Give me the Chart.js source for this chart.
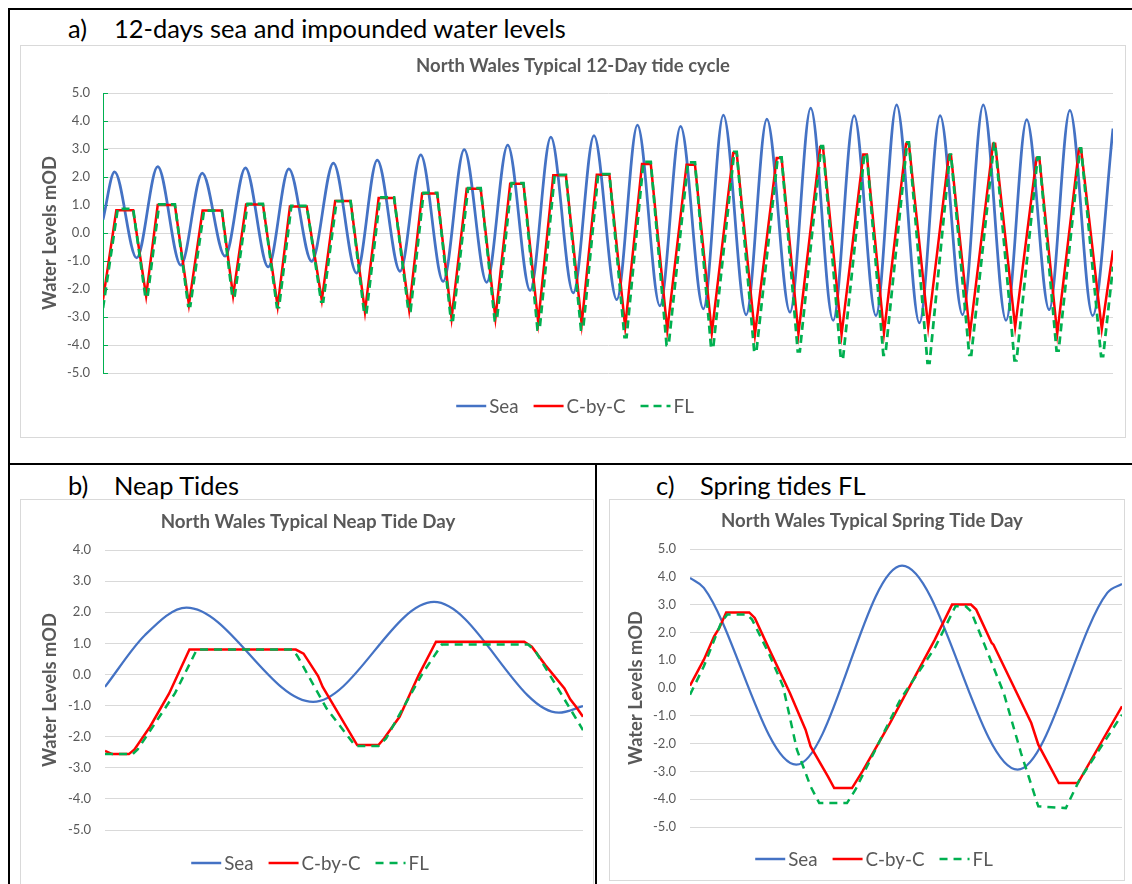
<!DOCTYPE html>
<html><head><meta charset="utf-8">
<title>North Wales tide cycles</title>
<script src="https://cdn.jsdelivr.net/npm/chart.js@4.4.1/dist/chart.umd.min.js"></script>
<style>
html,body{margin:0;padding:0;background:#fff}
body{width:1132px;height:884px;position:relative;overflow:hidden;font-family:Lato,"Open Sans",sans-serif}
.rule{position:absolute;background:#000}
.frame{position:absolute;border:1px solid #d9d9d9;box-sizing:border-box}
.lbl{position:absolute;white-space:nowrap;color:#000;font-size:24px;line-height:30px;height:30px}
canvas{position:absolute}
</style></head><body>
<div class="rule" style="left:8px;top:8px;width:1124px;height:2px"></div>
<div class="rule" style="left:8px;top:8px;width:2px;height:876px"></div>
<div class="rule" style="left:8px;top:463px;width:1124px;height:2px"></div>
<div class="rule" style="left:595px;top:463px;width:2px;height:421px"></div>

<div class="frame" style="left:20px;top:45px;width:1106px;height:393px"></div>
<div class="frame" style="left:20px;top:499px;width:574px;height:400px"></div>
<div class="frame" style="left:609px;top:499px;width:516px;height:382px"></div>

<div class="lbl" id="la1" style="left:68px;top:13px">a)</div>
<div class="lbl" id="la2" style="left:114px;top:13px">12-days sea and impounded water levels</div>
<div class="lbl" id="lb1" style="left:68px;top:470px">b)</div>
<div class="lbl" id="lb2" style="left:114px;top:470px">Neap Tides</div>
<div class="lbl" id="lc1" style="left:656px;top:470px">c)</div>
<div class="lbl" id="lc2" style="left:700px;top:470px">Spring tides FL</div>

<canvas id="cA" width="1104" height="391" style="left:21px;top:46px"></canvas>
<canvas id="cB" width="572" height="384" style="left:21px;top:500px"></canvas>
<canvas id="cC" width="514" height="380" style="left:610px;top:500px"></canvas>

<script>
// ---------- DATA (hours, mOD) ----------
// a) 12-day cycle
const cycleSeaT = [0, 3.3, 9.6, 15.6, 22.2, 28.3, 34.8, 40.6, 47.1, 53.0, 59.5, 65.7, 72.3, 78.2, 84.7, 90.6, 97.0, 103.0, 109.4, 115.4, 121.8, 127.7, 134.1, 140.0, 146.5, 152.4, 158.8, 164.7, 171.2, 176.9, 183.4, 189.3, 195.9, 201.8, 208.2, 214.2, 220.4, 226.3, 232.8, 238.7, 245.1, 251.0, 257.5, 263.4, 269.8, 275.7, 282.2, 288];
const cycleSeaV = [0.48, 2.18, -0.89, 2.37, -1.15, 2.14, -0.83, 2.33, -1.21, 2.29, -1.01, 2.50, -1.43, 2.60, -1.37, 2.79, -1.73, 2.98, -1.76, 3.14, -2.05, 3.42, -2.14, 3.48, -2.38, 3.85, -2.60, 3.81, -2.71, 4.21, -2.92, 4.07, -2.83, 4.46, -3.12, 4.19, -2.95, 4.58, -3.21, 4.19, -2.92, 4.58, -3.12, 4.05, -2.74, 4.38, -2.95, 3.73];

const cycleCbcT = [0, 3.8, 8.6, 12.3, 15.6, 20.5, 24.5, 28.4, 33.9, 37.1, 40.8, 45.6, 49.8, 53.3, 58.1, 62.4, 66.2, 70.6, 74.7, 78.6, 83.0, 87.3, 91.0, 95.3, 99.4, 103.7, 107.7, 111.9, 116.1, 119.9, 124.1, 128.4, 132.0, 136.5, 140.8, 144.4, 148.9, 153.7, 156.2, 160.9, 166.4, 168.8, 173.6, 179.7, 180.7, 185.9, 192.1, 193.5, 198.3, 204.5, 205.3, 210.6, 216.8, 217.8, 222.7, 229.0, 229.8, 235.3, 241.2, 241.8, 247.2, 253.8, 254.4, 260.1, 266.2, 267.0, 272.1, 278.3, 278.9, 284.8, 288];
const cycleCbcV = [-2.38, 0.81, 0.81, -2.25, 1.00, 1.00, -2.56, 0.80, 0.80, -2.24, 1.02, 1.02, -2.62, 0.95, 0.95, -2.40, 1.14, 1.14, -2.82, 1.25, 1.25, -2.74, 1.41, 1.41, -3.04, 1.58, 1.58, -3.04, 1.76, 1.76, -3.19, 2.06, 2.06, -3.25, 2.08, 2.08, -3.36, 2.46, 2.46, -3.48, 2.44, 2.44, -3.57, 2.86, 2.86, -3.63, 2.68, 2.68, -3.60, 3.07, 3.07, -3.63, 2.80, 2.80, -3.57, 3.19, 3.19, -3.36, 2.79, 2.79, -3.60, 3.19, 3.19, -3.36, 2.68, 2.68, -3.60, 3.00, 3.00, -3.43, -0.62];

const cycleFlT = [0,
  4.2, 8.6, 12.1, 12.7,  16.0, 20.5, 24.3, 24.9,  28.8, 33.9, 36.9, 37.5,
  41.2, 45.6, 49.6, 50.2,  53.7, 58.1, 62.2, 62.8,  66.6, 70.6, 74.5, 75.1,
  79.0, 83.0, 87.1, 87.7,  91.4, 95.3, 99.2, 99.8,  104.1, 107.7, 111.7, 112.3,
  116.5, 119.9, 123.9, 124.5,  128.8, 132.0, 136.3, 136.9,  141.2, 144.4, 148.7, 149.3,
  154.1, 156.2, 160.7, 161.3,  166.8, 168.8, 173.4, 174.0,  180.0, 180.7, 185.7, 186.3,
  192.4, 193.5, 198.1, 198.7,  204.8, 205.3, 210.4, 211.0,  217.1, 217.8, 222.5, 223.1,
  229.3, 229.8, 235.1, 235.7,  241.5, 241.8, 247.0, 247.6,  254.1, 254.4, 259.9, 260.5,
  266.5, 267.0, 271.9, 272.5,  278.6, 278.9, 284.6, 285.2,
  288];
const cycleFlV = [-2.68,
  0.86, 0.86, -2.29, -2.29,  1.02, 1.02, -2.60, -2.60,  0.80, 0.80, -2.29, -2.29,
  1.04, 1.04, -2.65, -2.65,  0.97, 0.97, -2.45, -2.45,  1.14, 1.14, -2.88, -2.88,
  1.27, 1.27, -2.78, -2.78,  1.43, 1.43, -3.10, -3.10,  1.60, 1.60, -3.12, -3.12,
  1.78, 1.78, -3.45, -3.45,  2.08, 2.08, -3.45, -3.45,  2.10, 2.10, -3.72, -3.72,
  2.54, 2.54, -4.00, -4.00,  2.52, 2.52, -4.10, -4.10,  2.90, 2.90, -4.25, -4.25,
  2.70, 2.70, -4.23, -4.23,  3.10, 3.10, -4.50, -4.50,  2.82, 2.82, -4.35, -4.35,
  3.24, 3.24, -4.64, -4.64,  2.80, 2.80, -4.35, -4.35,  3.21, 3.21, -4.55, -4.55,
  2.70, 2.70, -4.20, -4.20,  3.02, 3.02, -4.40, -4.40,
  -1.20];

// b) neap tide day
const neapSeaT = [0, 2.0, 4.09, 10.45, 16.52, 22.79, 24];
const neapSeaV = [-0.40, 1.26, 2.15, -0.88, 2.33, -1.23, -1.02];
const neapCbcT = [0, 0.36, 1.20, 1.48, 2.26, 3.22, 4.24, 9.58, 9.97, 10.70, 10.93, 12.66, 13.73, 14.01, 14.79, 15.75, 16.62, 21.05, 21.43, 22.11, 23.07, 23.36, 23.65, 24];
const neapCbcV = [-2.46, -2.56, -2.56, -2.41, -1.68, -0.61, 0.80, 0.80, 0.67, -0.05, -0.40, -2.27, -2.27, -2.06, -1.36, -0.02, 1.05, 1.05, 0.89, 0.30, -0.45, -0.80, -1.04, -1.36];
const neapFlT = [0, 1.39, 1.65, 3.51, 4.61, 9.43, 9.68, 11.12, 12.57, 13.73, 14.11, 15.94, 16.91, 21.25, 21.63, 24];
const neapFlV = [-2.56, -2.56, -2.40, -0.61, 0.80, 0.80, 0.57, -1.09, -2.30, -2.30, -2.06, 0.03, 0.96, 0.96, 0.73, -1.79];

// c) spring tide day
const springSeaT = [0, 0.77, 5.90, 11.78, 18.20, 23.18, 24];
const springSeaV = [3.96, 3.60, -2.76, 4.40, -2.94, 3.42, 3.74];
const springCbcT = [0, 0.77, 1.34, 1.63, 2.01, 3.29, 3.60, 4.41, 5.55, 6.42, 6.70, 7.66, 8.01, 9.00, 9.58, 11.11, 13.60, 14.56, 15.61, 15.90, 16.76, 16.86, 18.96, 19.35, 20.49, 21.55, 24];
const springCbcV = [0.08, 1.02, 1.86, 2.16, 2.72, 2.72, 2.52, 1.38, -0.18, -1.50, -2.10, -3.18, -3.60, -3.60, -3.00, -1.26, 1.74, 3.00, 3.00, 2.82, 1.62, 1.56, -1.26, -2.04, -3.42, -3.42, -0.66];
const springFlT = [0, 0.77, 1.72, 2.07, 3.16, 3.45, 4.41, 5.17, 5.94, 6.70, 7.18, 8.72, 9.19, 11.68, 13.60, 14.75, 15.32, 15.61, 16.47, 17.43, 18.39, 19.35, 20.88, 21.64, 24];
const springFlV = [-0.24, 0.78, 2.34, 2.64, 2.64, 2.46, 1.20, 0.06, -2.22, -3.54, -4.14, -4.14, -3.66, -0.42, 1.44, 2.94, 2.94, 2.76, 1.38, -0.18, -2.34, -4.26, -4.32, -3.30, -0.96];

const seriesNames = ['Sea', 'C-by-C', 'FL'];
const yAxisTitle = 'Water Levels mOD';
const chartTitles = ['North Wales Typical 12-Day tide cycle', 'North Wales Typical Neap Tide Day', 'North Wales Typical Spring Tide Day'];

// ---------- helpers ----------
const FONT = 'Lato';
Chart.defaults.font.family = FONT;
const mctx = document.createElement('canvas').getContext('2d');
function fitSize(text, weight, target) {
  mctx.font = weight + ' 100px ' + FONT;
  return 100 * target / mctx.measureText(text).width;
}
function pts(T, V) { return T.map((t, i) => ({x: t, y: V[i]})); }

// panel labels
(function () {
  const el = document.getElementById('la2');
  mctx.font = '400 100px ' + FONT;
  const s = 100 * 453 / mctx.measureText(el.textContent).width;
  document.querySelectorAll('.lbl').forEach(e => { e.style.fontSize = s.toFixed(2) + 'px'; });
})();

const GRAY = '#595959';
const tickSize = 13;
const axisTitleSize = fitSize(yAxisTitle, 'bold', 154);
const legendSize = fitSize('C-by-C', '400', 59);

const textPlugin = {
  id: 'xlText',
  afterDraw(chart, args, o) {
    const ctx = chart.ctx;
    ctx.save();
    // title
    ctx.font = 'bold ' + o.titleSize + 'px ' + FONT;
    ctx.fillStyle = GRAY; ctx.textAlign = 'center'; ctx.textBaseline = 'middle';
    ctx.fillText(o.title, o.tx, o.ty);
    // legend
    ctx.font = legendSize + 'px ' + FONT;
    ctx.textAlign = 'left';
    const ds = chart.data.datasets;
    const L = o.lineLen, g1 = 3, g2 = 15;
    let total = 0;
    const widths = ds.map(d => ctx.measureText(d.label).width);
    widths.forEach((w, i) => { total += L + g1 + w + (i < ds.length - 1 ? g2 : 0); });
    let x = o.lx - total / 2;
    ds.forEach((d, i) => {
      ctx.beginPath();
      ctx.setLineDash(d.borderDash || []);
      ctx.strokeStyle = d.borderColor; ctx.lineWidth = o.legendLw; ctx.lineCap = 'butt';
      ctx.moveTo(x, o.ly); ctx.lineTo(x + L, o.ly); ctx.stroke();
      ctx.setLineDash([]);
      ctx.fillStyle = GRAY;
      ctx.fillText(d.label, x + L + g1, o.ly + 1);
      x += L + g1 + widths[i] + g2;
    });
    ctx.restore();
  }
};

const inTickPlugin = {
  id: 'inTicks',
  beforeDatasetsDraw(chart, args, o) {
    if (!o || !o.on) return;
    const y = chart.scales.y, ctx = chart.ctx, left = chart.chartArea.left;
    ctx.save();
    ctx.strokeStyle = '#00B050'; ctx.lineWidth = 1;
    y.ticks.forEach(t => {
      const py = Math.round(y.getPixelForValue(t.value)) + 0.5;
      ctx.beginPath(); ctx.moveTo(left, py); ctx.lineTo(left + 5, py); ctx.stroke();
    });
    ctx.restore();
  }
};

function makeChart(id, c) {
  new Chart(document.getElementById(id), {
    type: 'line',
    data: {datasets: [
      {label: seriesNames[0], data: pts(c.seaT, c.seaV), borderColor: '#4472C4', borderWidth: c.lwSea, cubicInterpolationMode: 'monotone', pointRadius: 0, order: 2},
      {label: seriesNames[1], data: pts(c.cbcT, c.cbcV), borderColor: '#FF0000', borderWidth: c.lwCbc, tension: 0, pointRadius: 0, order: 1},
      {label: seriesNames[2], data: pts(c.flT, c.flV), borderColor: '#00B050', borderWidth: c.lwFl, borderDash: c.dash, tension: 0, pointRadius: 0, order: 0}
    ]},
    options: {
      responsive: false, animation: false, events: [],
      layout: {padding: {left: 0, top: c.plotTop, right: c.padR, bottom: c.padB}},
      plugins: {
        legend: {display: false}, tooltip: {enabled: false}, title: {display: false},
        xlText: {title: c.title, titleSize: fitSize(c.title, 'bold', c.titleW), tx: c.tx, ty: c.ty, lx: c.lx, ly: c.ly, lineLen: 30, legendLw: 2.5},
        inTicks: {on: c.greenAxis}
      },
      scales: {
        x: {type: 'linear', min: 0, max: c.xMax, display: false},
        y: {
          min: c.yMin, max: c.yMax,
          afterFit: s => { s.width = c.plotLeft; },
          ticks: {stepSize: 1, color: GRAY, font: {size: tickSize}, padding: c.tickPad, callback: v => Number(v).toFixed(1)},
          grid: {color: '#d9d9d9', lineWidth: 1, drawTicks: false},
          border: {display: c.greenAxis, color: '#00B050', width: 1},
          title: {display: true, text: yAxisTitle, color: GRAY, font: {weight: 'bold', size: axisTitleSize, lineHeight: 1.2}, padding: {top: c.yTitleX - axisTitleSize * 0.6, bottom: 0}}
        }
      }
    },
    plugins: [textPlugin, inTickPlugin]
  });
}

makeChart('cA', {
  seaT: cycleSeaT, seaV: cycleSeaV, cbcT: cycleCbcT, cbcV: cycleCbcV, flT: cycleFlT, flV: cycleFlV,
  lwSea: 2.75, lwCbc: 2.5, lwFl: 2.75, dash: [8, 5],
  plotTop: 47, padR: 12, padB: 64, plotLeft: 82, tickPad: 13, yTitleX: 29,
  xMax: 288, yMin: -5, yMax: 5, greenAxis: true,
  title: chartTitles[0], titleW: 314, tx: 552, ty: 20, lx: 554, ly: 360
});
makeChart('cB', {
  seaT: neapSeaT, seaV: neapSeaV, cbcT: neapCbcT, cbcV: neapCbcV, flT: neapFlT, flV: neapFlV,
  lwSea: 2.25, lwCbc: 2.5, lwFl: 2.5, dash: [8, 6],
  plotTop: 50, padR: 10, padB: 54, plotLeft: 84, tickPad: 14, yTitleX: 29,
  xMax: 24, yMin: -5, yMax: 4, greenAxis: false,
  title: chartTitles[1], titleW: 295, tx: 287, ty: 22, lx: 289, ly: 363
});
makeChart('cC', {
  seaT: springSeaT, seaV: springSeaV, cbcT: springCbcT, cbcV: springCbcV, flT: springFlT, flV: springFlV,
  lwSea: 2.25, lwCbc: 2.5, lwFl: 2.5, dash: [8, 6],
  plotTop: 49, padR: 2, padB: 53, plotLeft: 80, tickPad: 14, yTitleX: 26,
  xMax: 24, yMin: -5, yMax: 5, greenAxis: false,
  title: chartTitles[2], titleW: 302, tx: 262, ty: 21, lx: 264, ly: 359
});
</script>
</body></html>
